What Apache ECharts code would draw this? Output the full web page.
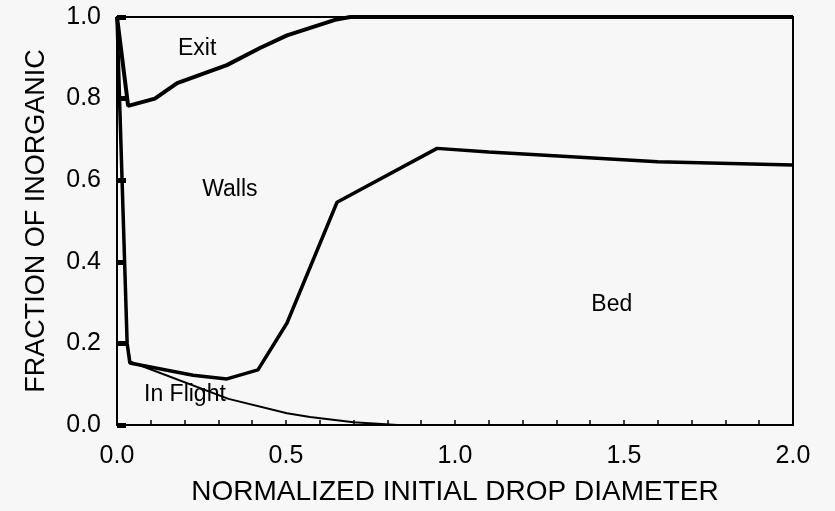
<!DOCTYPE html>
<html>
<head>
<meta charset="utf-8">
<script src="https://cdn.jsdelivr.net/npm/echarts@6/dist/echarts.min.js"></script>
<style>
  html, body { margin: 0; padding: 0; background: #f7f7f7; }
  #chart { width: 835px; height: 511px; }
</style>
</head>
<body>
<div id="chart"></div>
<script>
// Boundary between the "Exit" and "Walls" regions
const exitX = [0, 0.033, 0.112, 0.178, 0.325, 0.423, 0.503, 0.645, 0.69, 2.0];
const exitY = [1.0, 0.782, 0.80, 0.838, 0.882, 0.924, 0.955, 0.993, 1.0, 1.0];

// Boundary between the "Walls" and "Bed" regions
const wallsX = [0, 0.03, 0.038, 0.225, 0.325, 0.417, 0.503, 0.651, 0.947, 1.1, 1.6, 2.0];
const wallsY = [1.0, 0.2, 0.152, 0.122, 0.113, 0.135, 0.25, 0.546, 0.678, 0.669, 0.645, 0.637];

// Upper edge of the "In Flight" region
const flightX = [0, 0.03, 0.04, 0.33, 0.503, 0.571, 0.70, 0.83, 2.0];
const flightY = [1.0, 0.2, 0.155, 0.064, 0.029, 0.0196, 0.007, 0.0, 0.0];

// Region names and where they sit in data space
const regionNames = ['Exit', 'Walls', 'Bed', 'In Flight'];
const regionX = [0.237, 0.334, 1.464, 0.201];
const regionY = [0.922, 0.576, 0.294, 0.074];

const xTickLabels = ['0.0', '0.5', '1.0', '1.5', '2.0'];
const yTickLabels = ['0.0', '0.2', '0.4', '0.6', '0.8', '1.0'];

const zip = (xs, ys) => xs.map((x, i) => [x, ys[i]]);
const FONT = '"Liberation Sans", Arial, Helvetica, sans-serif';

const chart = echarts.init(document.getElementById('chart'), null, { renderer: 'canvas' });

chart.setOption({
  backgroundColor: '#f7f7f7',
  animation: false,
  grid: {
    left: 117, right: 42, top: 17, bottom: 86,
    show: true, borderColor: '#000', borderWidth: 2, backgroundColor: 'transparent'
  },
  xAxis: {
    type: 'value', min: 0, max: 2, interval: 0.5,
    name: 'NORMALIZED INITIAL DROP DIAMETER',
    nameLocation: 'middle', nameGap: 53,
    nameTextStyle: { fontFamily: FONT, fontSize: 28, color: '#000' },
    axisLine: { show: true, onZero: false, lineStyle: { color: '#000', width: 2 } },
    axisTick: { show: true, inside: true, length: 5, lineStyle: { color: '#000', width: 1.5 } },
    minorTick: { show: true, splitNumber: 5, length: 5, lineStyle: { color: '#000', width: 1.5 } },
    axisLabel: {
      fontFamily: FONT, fontSize: 25, color: '#000', margin: 19,
      formatter: (v) => xTickLabels[Math.round(v / 0.5)]
    },
    splitLine: { show: false }
  },
  yAxis: {
    type: 'value', min: 0, max: 1, interval: 0.2,
    name: 'FRACTION OF INORGANIC',
    nameLocation: 'middle', nameGap: 67,
    nameTextStyle: { fontFamily: FONT, fontSize: 27, color: '#000' },
    axisLine: { show: true, onZero: false, lineStyle: { color: '#000', width: 2 } },
    axisTick: { show: true, inside: true, length: 9, lineStyle: { color: '#000', width: 5 } },
    axisLabel: {
      fontFamily: FONT, fontSize: 25, color: '#000', margin: 16,
      formatter: (v) => yTickLabels[Math.round(v / 0.2)]
    },
    splitLine: { show: false }
  },
  series: [
    {
      name: 'In Flight', type: 'line', data: zip(flightX, flightY),
      symbol: 'none', lineStyle: { color: '#000', width: 2 }, z: 3
    },
    {
      name: 'Walls', type: 'line', data: zip(wallsX, wallsY),
      symbol: 'none', lineStyle: { color: '#000', width: 3.5 }, z: 4
    },
    {
      name: 'Exit', type: 'line', data: zip(exitX, exitY),
      symbol: 'none', lineStyle: { color: '#000', width: 4 }, z: 5
    },
    {
      name: 'Regions', type: 'scatter',
      data: regionNames.map((n, i) => ({ name: n, value: [regionX[i], regionY[i]] })),
      symbolSize: 1, silent: true, z: 6,
      itemStyle: { color: 'rgba(0,0,0,0)', opacity: 1 },
      label: {
        show: true, position: 'inside', formatter: (p) => p.name,
        fontFamily: FONT, fontSize: 23, color: '#000', opacity: 1, textBorderWidth: 0
      }
    }
  ]
});
</script>
</body>
</html>
